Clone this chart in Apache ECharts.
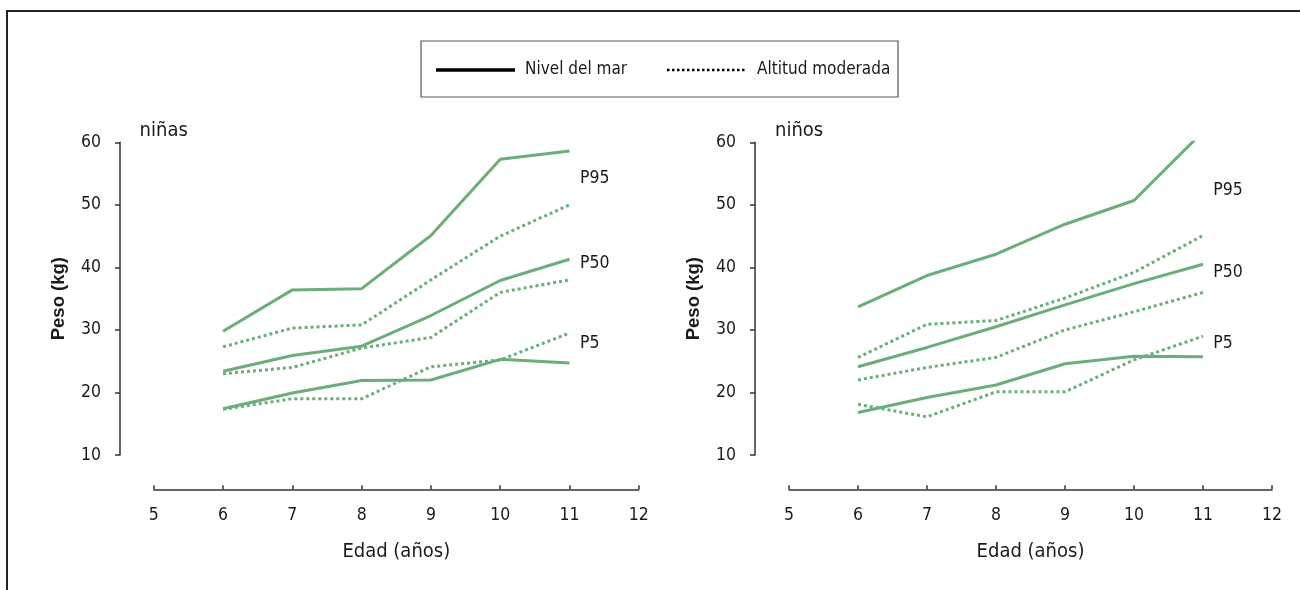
<!DOCTYPE html>
<html><head><meta charset="utf-8">
<script src="https://cdn.jsdelivr.net/npm/echarts@6/dist/echarts.min.js"></script>
<style>html,body{margin:0;padding:0;background:#fff}#c{width:1300px;height:590px}</style>
</head><body><div id="c"></div>
<script>
// ---- data ----
const ages = [6, 7, 8, 9, 10, 11];
const xTicks = [5, 6, 7, 8, 9, 10, 11, 12];
const yTicks = [10, 20, 30, 40, 50, 60];
const panelTitles = ['niñas', 'niños'];
const legendNames = ['Nivel del mar', 'Altitud moderada'];
const pctNames = ['P95', 'P50', 'P5'];

// niñas
const girlsSeaP95 = [29.8, 36.4, 36.6, 45.1, 57.3, 58.6];
const girlsSeaP50 = [23.4, 25.9, 27.4, 32.3, 37.9, 41.3];
const girlsSeaP5  = [17.4, 19.9, 21.9, 22.0, 25.3, 24.7];
const girlsAltP95 = [27.3, 30.3, 30.8, 38.0, 45.0, 50.0];
const girlsAltP50 = [23.0, 24.0, 27.1, 28.8, 36.0, 38.0];
const girlsAltP5  = [17.3, 19.0, 19.0, 24.1, 25.2, 29.5];
// niños
const boysSeaP95 = [33.7, 38.7, 42.1, 46.9, 50.7, 61.7];
const boysSeaP50 = [24.1, 27.2, 30.5, 34.0, 37.4, 40.5];
const boysSeaP5  = [16.8, 19.2, 21.2, 24.6, 25.8, 25.7];
const boysAltP95 = [25.6, 30.9, 31.5, 35.1, 39.2, 45.1];
const boysAltP50 = [22.0, 24.0, 25.6, 30.0, 32.9, 36.0];
const boysAltP5  = [18.1, 16.1, 20.1, 20.1, 25.2, 29.0];

// ---- layout (label anchors in data units) ----
const pctAnchorX = 11.15;
const girlsPctAnchorY = [54.2, 40.6, 27.8];
const boysPctAnchorY  = [52.3, 39.2, 27.8];

const FONT = "'Liberation Sans Narrow','DejaVu Sans Condensed','Arial Narrow',sans-serif";
const GREEN = '#6aae79';
const TXT = '#1a1a1a';
const AX = '#333';

const grids = [
  { left: 153.8, top: 142.3, width: 485, height: 312.7 },
  { left: 789, top: 142.3, width: 483, height: 312.7 }
];
const yOffsets = [33.8, 34];

function pairs(v) { return ages.map((a, i) => [a, v[i]]); }

function mkX(i) {
  return {
    type: 'value', gridIndex: i, min: xTicks[0], max: xTicks[xTicks.length - 1], interval: 1,
    offset: 34.3,
    name: 'Edad (años)', nameLocation: 'middle', nameGap: 52,
    nameTextStyle: { fontFamily: FONT, fontSize: 20, color: TXT },
    axisLine: { show: true, lineStyle: { color: AX, width: 1.5 } },
    axisTick: { show: true, inside: true, length: 4, lineStyle: { color: AX, width: 1.5 } },
    axisLabel: { fontFamily: FONT, fontSize: 17.5, color: TXT, margin: 17 },
    splitLine: { show: false }
  };
}
function mkY(i) {
  return {
    type: 'value', gridIndex: i, min: yTicks[0], max: yTicks[yTicks.length - 1], interval: 10,
    offset: yOffsets[i],
    name: 'Peso (kg)', nameLocation: 'middle', nameGap: 52,
    nameTextStyle: { fontFamily: "'Liberation Sans',Arial,sans-serif", fontSize: 18.5, fontWeight: 'bold', color: TXT },
    axisLine: { show: true, lineStyle: { color: AX, width: 1.5 } },
    axisTick: { show: true, inside: false, length: 5, lineStyle: { color: AX, width: 1.5 } },
    axisLabel: { fontFamily: FONT, fontSize: 17.5, color: TXT, margin: 19 },
    splitLine: { show: false }
  };
}
function mkLine(name, vals, gi, dotted) {
  return {
    type: 'line', name: name, xAxisIndex: gi, yAxisIndex: gi,
    data: pairs(vals), symbol: 'none', showSymbol: false, clip: true,
    color: GREEN,
    lineStyle: { color: GREEN, width: 3, type: dotted ? [3, 3] : 'solid' },
    silent: true, animation: false
  };
}

const series = [
  mkLine(legendNames[0], girlsSeaP95, 0, false),
  mkLine(legendNames[0], girlsSeaP50, 0, false),
  mkLine(legendNames[0], girlsSeaP5, 0, false),
  mkLine(legendNames[1], girlsAltP95, 0, true),
  mkLine(legendNames[1], girlsAltP50, 0, true),
  mkLine(legendNames[1], girlsAltP5, 0, true),
  mkLine(legendNames[0], boysSeaP95, 1, false),
  mkLine(legendNames[0], boysSeaP50, 1, false),
  mkLine(legendNames[0], boysSeaP5, 1, false),
  mkLine(legendNames[1], boysAltP95, 1, true),
  mkLine(legendNames[1], boysAltP50, 1, true),
  mkLine(legendNames[1], boysAltP5, 1, true)
];

const chart = echarts.init(document.getElementById('c'), null, { renderer: 'canvas' });
chart.setOption({
  animation: false,
  backgroundColor: '#fff',
  grid: grids,
  xAxis: [mkX(0), mkX(1)],
  yAxis: [mkY(0), mkY(1)],
  series: series
});

// graphics: frame, legend (box, keys, texts), panel titles, percentile labels
const LEG_Y = 70;
const gfx = [
  { type: 'polyline', shape: { points: [[7, 590], [7, 11], [1300, 11]] }, style: { stroke: '#222', lineWidth: 2, fill: null }, silent: true },
  { type: 'rect', shape: { x: 421, y: 41, width: 477, height: 56 }, style: { stroke: '#555', lineWidth: 1.2, fill: null }, silent: true, z: -1 },
  { type: 'line', shape: { x1: 436, y1: LEG_Y, x2: 515, y2: LEG_Y }, style: { stroke: '#000', lineWidth: 3.3 }, silent: true },
  { type: 'text', x: 525, y: LEG_Y, style: { text: legendNames[0], fontFamily: FONT, fontSize: 17, fill: TXT, textVerticalAlign: 'middle', textAlign: 'left' }, silent: true },
  { type: 'line', shape: { x1: 667, y1: LEG_Y, x2: 747, y2: LEG_Y }, style: { stroke: '#000', lineWidth: 2.5, lineDash: [2.5, 2.5] }, silent: true },
  { type: 'text', x: 757, y: LEG_Y, style: { text: legendNames[1], fontFamily: FONT, fontSize: 17, fill: TXT, textVerticalAlign: 'middle', textAlign: 'left' }, silent: true }
];
const titleX = [139.6, 775];
panelTitles.forEach((t, i) => {
  gfx.push({ type: 'text', x: titleX[i], y: 131, style: { text: t, fontFamily: FONT, fontSize: 20, fill: TXT, textVerticalAlign: 'middle', textAlign: 'left' }, silent: true });
});
[girlsPctAnchorY, boysPctAnchorY].forEach((ys, gi) => {
  pctNames.forEach((n, k) => {
    const p = chart.convertToPixel({ gridIndex: gi }, [pctAnchorX, ys[k]]);
    gfx.push({ type: 'text', x: p[0], y: p[1], style: { text: n, fontFamily: FONT, fontSize: 17.5, fill: TXT, textVerticalAlign: 'middle', textAlign: 'left' }, silent: true });
  });
});
chart.setOption({ graphic: gfx });
</script>
</body></html>
